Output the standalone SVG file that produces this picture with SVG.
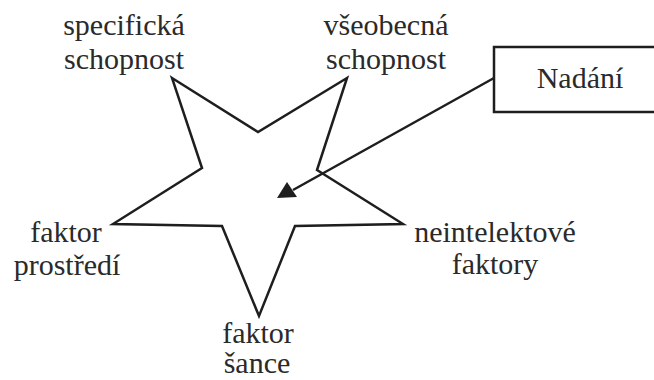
<svg xmlns="http://www.w3.org/2000/svg" width="654" height="380" viewBox="0 0 654 380">
<style>
text{font-family:"Liberation Serif",Tinos,"DejaVu Serif","Noto Serif",Times,serif;font-size:30px;fill:#2a2a2a;text-anchor:middle}
.ln{fill:none;stroke:#1e1e1e;stroke-width:2.5;stroke-linejoin:miter}
</style>
<rect width="654" height="380" fill="#ffffff"/>
<g id="star">
<polygon class="ln" points="172,78 258,132 347,78 317,170 403,224 295,226 259,316 222,226 113,224 202,168"/>
</g>
<g id="nadani">
<rect class="ln" x="494" y="47" width="170" height="65"/>
<text x="580" y="88">Nadání</text>
</g>
<g id="specificka">
<text x="124" y="35">specifická</text>
<text x="124" y="69">schopnost</text>
</g>
<g id="vseobecna">
<text x="386" y="35">všeobecná</text>
<text x="386" y="69">schopnost</text>
</g>
<g id="prostredi">
<text x="66" y="242">faktor</text>
<text x="67" y="275">prostředí</text>
</g>
<g id="neintelektove">
<text x="495" y="242">neintelektové</text>
<text x="495" y="274">faktory</text>
</g>
<g id="sance">
<text x="258" y="343">faktor</text>
<text x="257" y="373">šance</text>
</g>
<g id="connectors">
<line class="ln" x1="494" y1="78" x2="293" y2="190"/>
<polygon points="287,182 277,198 297,197" fill="#1e1e1e"/>
</g>
</svg>
